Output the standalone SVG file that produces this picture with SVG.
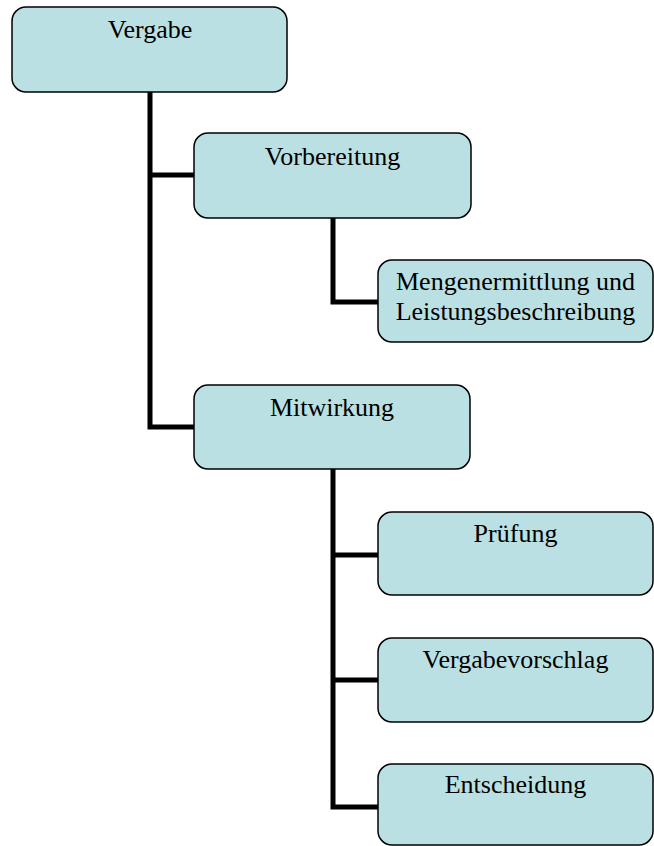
<svg xmlns="http://www.w3.org/2000/svg" width="654" height="846" viewBox="0 0 654 846">
<style>
.box{fill:#BBE0E3;stroke:#000;stroke-width:1.5}
.t{font-family:"Liberation Serif","Times New Roman",serif;font-size:26px;fill:#000;text-anchor:middle}
.c{fill:none;stroke:#000;stroke-width:5;stroke-linejoin:miter;stroke-linecap:butt}
</style>
<rect width="654" height="846" fill="#fff"/>
<g id="connectors">
<polyline class="c" points="150,92 150,427 194,427"/>
<line class="c" x1="150" y1="175" x2="194" y2="175"/>
<polyline class="c" points="333,218 333,302 378,302"/>
<polyline class="c" points="333,469 333,807 378,807"/>
<line class="c" x1="333" y1="555" x2="378" y2="555"/>
<line class="c" x1="333" y1="680" x2="378" y2="680"/>
</g>
<g id="vergabe">
<rect class="box" x="12" y="7" width="275" height="85" rx="14"/>
<text class="t" x="150" y="38">Vergabe</text>
</g>
<g id="vorbereitung">
<rect class="box" x="194" y="133" width="277" height="85" rx="14"/>
<text class="t" x="332.5" y="165">Vorbereitung</text>
</g>
<g id="mengen">
<rect class="box" x="378" y="260" width="275" height="82" rx="14"/>
<text class="t" x="515.5" y="290">Mengenermittlung und</text>
<text class="t" x="515.5" y="320">Leistungsbeschreibung</text>
</g>
<g id="mitwirkung">
<rect class="box" x="194" y="385" width="276" height="84" rx="14"/>
<text class="t" x="332" y="416">Mitwirkung</text>
</g>
<g id="pruefung">
<rect class="box" x="378" y="512" width="275" height="83" rx="14"/>
<text class="t" x="515.5" y="542">Prüfung</text>
</g>
<g id="vergabevorschlag">
<rect class="box" x="378" y="638" width="275" height="84" rx="14"/>
<text class="t" x="515.5" y="668">Vergabevorschlag</text>
</g>
<g id="entscheidung">
<rect class="box" x="378" y="764" width="275" height="81" rx="14"/>
<text class="t" x="515.5" y="793">Entscheidung</text>
</g>
</svg>
